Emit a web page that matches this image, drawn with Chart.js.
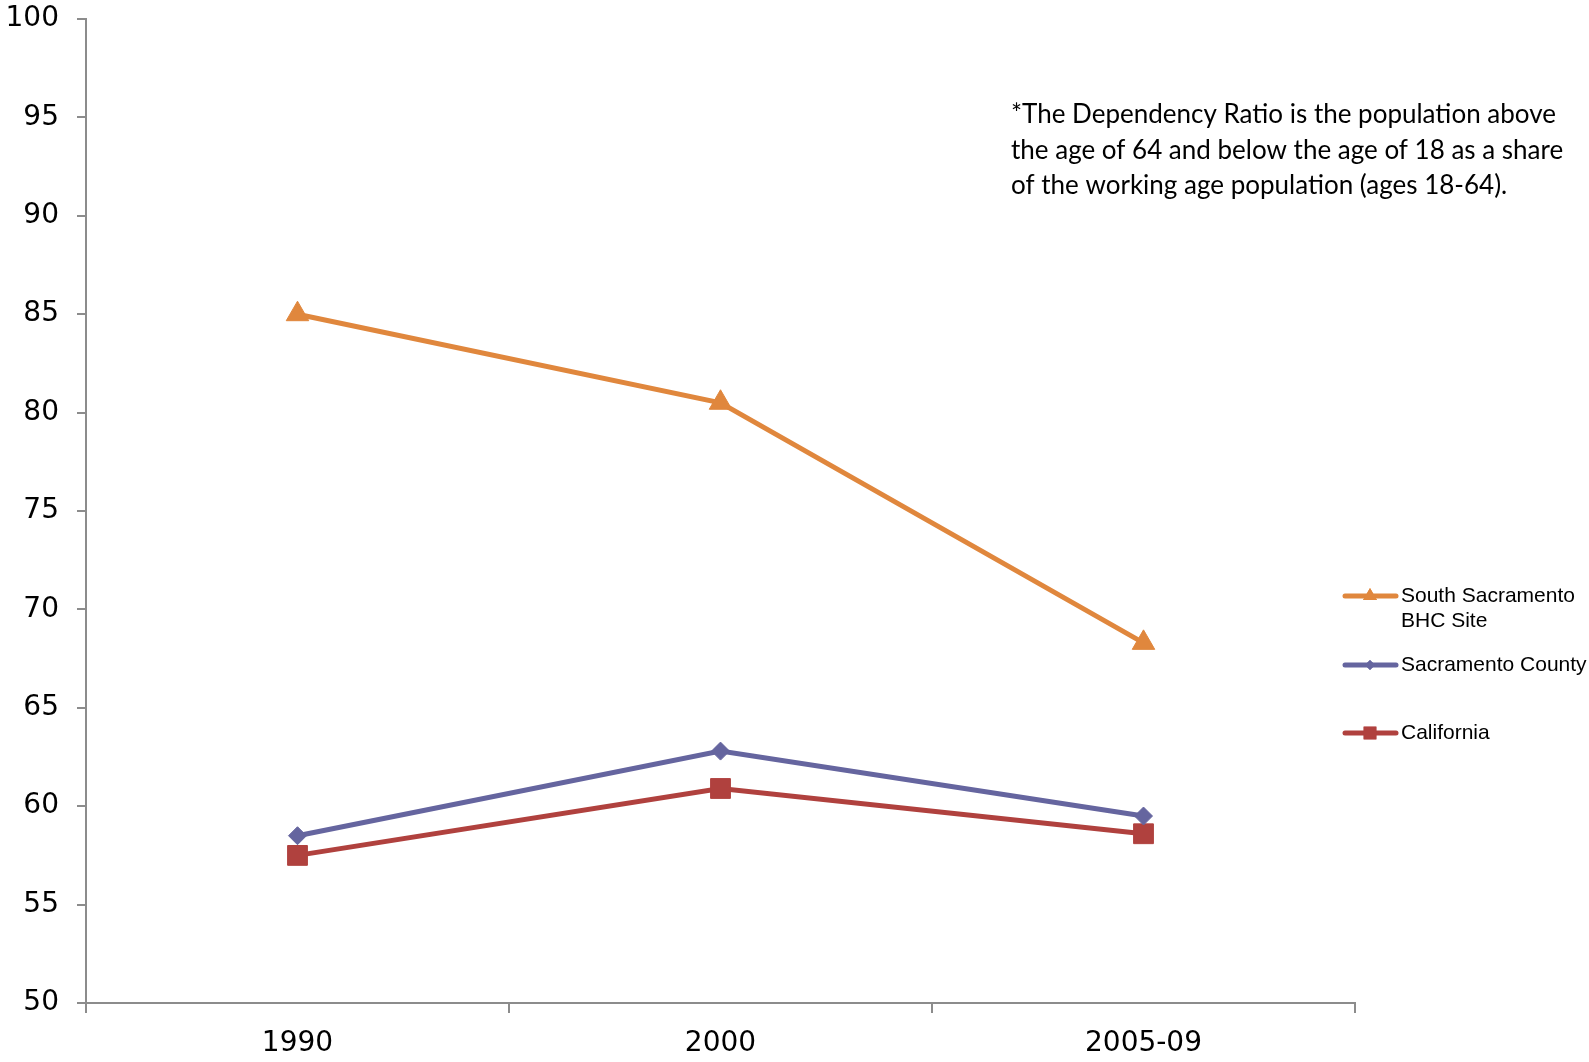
<!DOCTYPE html>
<html>
<head>
<meta charset="utf-8">
<script src="https://cdn.jsdelivr.net/npm/chart.js@4/dist/chart.umd.min.js"></script>
<style>
    html, body { margin: 0; padding: 0; background: #fff; }
    #wrap { width: 1589px; height: 1062px; position: relative; }
</style>
</head>
<body>
<div id="wrap"><canvas id="ratioChart"></canvas></div>
<script>
const years = ['1990', '2000', '2005-09'];
const southSac = [85.0, 80.5, 68.3];
const sacCounty = [58.5, 62.8, 59.5];
const california = [57.5, 60.9, 58.6];
const yTicks = [50, 55, 60, 65, 70, 75, 80, 85, 90, 95, 100];

const noteLines = [
    '*The Dependency Ratio is the population above',
    'the age of 64 and below the age of 18 as a share',
    'of the working age population (ages 18-64).'
];

const seriesInfo = [
    { label: ['South Sacramento', 'BHC Site'], data: southSac, color: '#E0873D', style: 'triangle', radius: 13, legendRadius: 8 },
    { label: ['Sacramento County'], data: sacCounty, color: '#65659F', style: 'rectRot', radius: 9, legendRadius: 5 },
    { label: ['California'], data: california, color: '#B0413E', style: 'rect', radius: 14, legendRadius: 9 }
];

// note text + legend drawn by hand
const extrasPlugin = {
    id: 'extras',
    afterDraw(chart) {
        const ctx = chart.ctx;
        ctx.save();
        ctx.fillStyle = '#000';
        ctx.font = '26px Lato, "Open Sans", sans-serif';
        ctx.textBaseline = 'middle';
        noteLines.forEach((line, i) => {
            ctx.fillText(line, 1011, 115 + i * 35.5);
        });

        const legendY = [596, 665, 733];
        ctx.font = '21px "Liberation Sans", Arial, sans-serif';
        seriesInfo.forEach((s, i) => {
            const y = legendY[i];
            ctx.strokeStyle = s.color;
            ctx.lineWidth = 5;
            ctx.lineCap = 'round';
            ctx.beginPath();
            ctx.moveTo(1345, y);
            ctx.lineTo(1396, y);
            ctx.stroke();
            ctx.fillStyle = s.color;
            Chart.helpers.drawPoint(ctx, { pointStyle: s.style, radius: s.legendRadius, rotation: 0, borderWidth: 0 }, 1370, y);
            ctx.fill();
            ctx.fillStyle = '#000';
            s.label.forEach((t, j) => {
                ctx.fillText(t, 1401, y + j * 25);
            });
        });
        ctx.restore();
    }
};

const tickFont = { family: '"DejaVu Sans", sans-serif', size: 28 };

const ctx = document.getElementById('ratioChart').getContext('2d');
window.ratioChart = new Chart(ctx, {
    type: 'line',
    data: {
        labels: years,
        datasets: seriesInfo.map(s => ({
            label: s.label.join(' '),
            data: s.data,
            borderColor: s.color,
            backgroundColor: s.color,
            borderWidth: 5,
            pointStyle: s.style,
            pointRadius: s.radius,
            pointHoverRadius: s.radius,
            pointBorderWidth: 1,
            pointBackgroundColor: s.color,
            fill: false,
            tension: 0
        }))
    },
    plugins: [extrasPlugin],
    options: {
        responsive: true,
        maintainAspectRatio: false,
        animation: false,
        layout: {
            padding: { top: 19, right: 234, left: 0, bottom: 0 }
        },
        plugins: {
            legend: { display: false },
            tooltip: { enabled: false }
        },
        scales: {
            x: {
                offset: true,
                grid: {
                    offset: true,
                    drawOnChartArea: false,
                    drawTicks: true,
                    tickLength: 10,
                    color: '#8c8c8c',
                    lineWidth: 2
                },
                border: { color: '#8c8c8c', width: 2 },
                ticks: {
                    color: '#000',
                    padding: 14,
                    font: tickFont
                },
                afterFit(scale) {
                    scale.height = 59;
                    scale.paddingLeft = 0;
                    scale.paddingRight = 0;
                }
            },
            y: {
                min: 50,
                max: 100,
                afterBuildTicks(scale) {
                    scale.ticks = yTicks.map(v => ({ value: v }));
                },
                grid: {
                    drawOnChartArea: false,
                    drawTicks: true,
                    tickLength: 9,
                    color: '#8c8c8c',
                    lineWidth: 2
                },
                border: { color: '#8c8c8c', width: 2 },
                ticks: {
                    color: '#000',
                    padding: 18,
                    font: tickFont
                },
                afterFit(scale) {
                    scale.width = 86;
                    scale.paddingTop = 0;
                    scale.paddingBottom = 0;
                }
            }
        }
    }
});
</script>
</body>
</html>
